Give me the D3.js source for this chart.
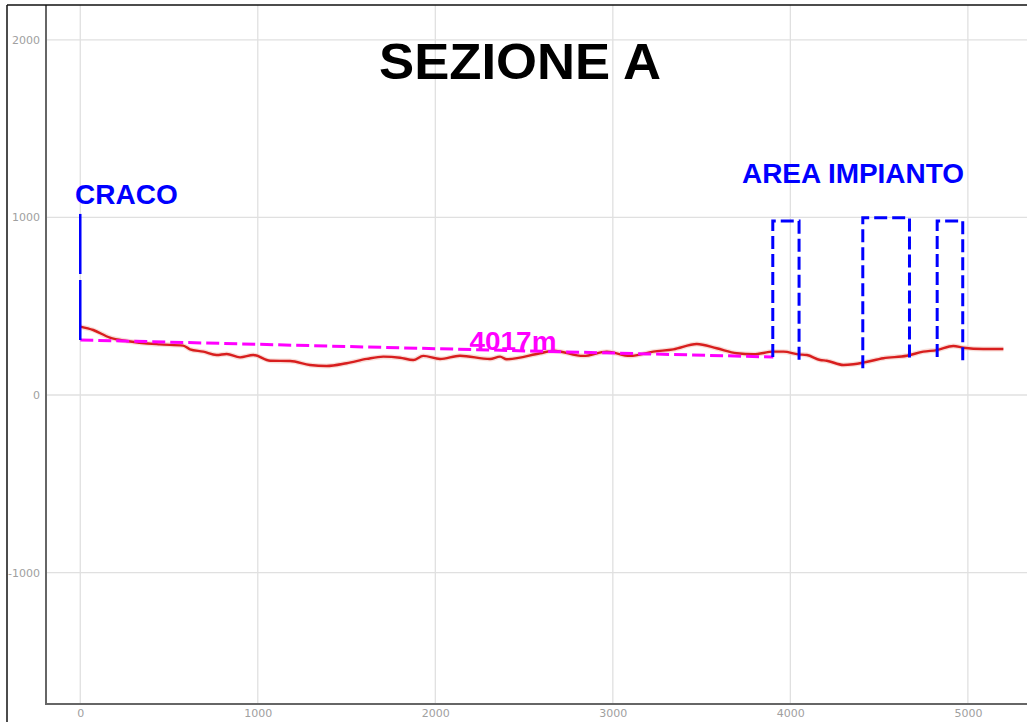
<!DOCTYPE html>
<html>
<head>
<meta charset="utf-8">
<script src="https://cdn.jsdelivr.net/npm/d3@7"></script>
<style>
  html, body { margin: 0; padding: 0; background: #fff; }
  svg { display: block; }
</style>
</head>
<body>
<svg id="chart" width="1027" height="722"></svg>
<script>
// ---- data ----
const xTicks = [0, 1000, 2000, 3000, 4000, 5000];
const yTicks = [-1000, 0, 1000, 2000];

const profileDist = [0, 73, 167, 261, 449, 580, 618, 693, 768, 825, 900, 975, 1070, 1182, 1294, 1388, 1501, 1614, 1707, 1801, 1876, 1932, 2027, 2139, 2308, 2365, 2402, 2590, 2665, 2834, 2966, 3097, 3228, 3341, 3473, 3585, 3698, 3792, 3904, 3961, 4045, 4093, 4168, 4205, 4299, 4355, 4411, 4524, 4656, 4749, 4825, 4918, 4975, 5087, 5200];
const profileElev = [385, 366, 323, 304, 285, 278, 257, 244, 225, 231, 212, 225, 193, 191, 169, 163, 179, 203, 216, 210, 197, 220, 203, 221, 203, 216, 201, 235, 249, 220, 244, 220, 244, 257, 287, 263, 235, 229, 244, 244, 229, 225, 197, 193, 169, 173, 182, 207, 221, 244, 253, 276, 266, 259, 259];

// sight line CRACO -> impianto
const sightDist = [0, 3904];
const sightElev = [310, 214];
const sightLabel = "4017m";

// CRACO marker
const cracoDist = 0;
const cracoElev = [310, 1030];
const cracoLabel = "CRACO";

// area impianto boxes
const boxLeft = [3901, 4408, 4827];
const boxRight = [4049, 4671, 4971];
const boxTop = [980, 998, 980];
const boxLeftBottom = [214, 150, 214];
const boxRightBottom = [175, 197, 175];
const areaLabel = "AREA IMPIANTO";

const title = "SEZIONE A";

// ---- drawing ----
(function () {
const svg = d3.select("#chart");
const W = 1027, H = 722;
const mLeft = 46, mRight = 1027, mTop = 5, mBottom = 704;

const x = d3.scaleLinear().domain([-193, 5333]).range([mLeft, mRight]);
const y = d3.scaleLinear().domain([-1740, 2196]).range([mBottom, mTop]);

// grid
const grid = svg.append("g");
grid.selectAll("line.vg").data(xTicks).enter().append("line")
  .attr("x1", d => x(d)).attr("x2", d => x(d))
  .attr("y1", mTop).attr("y2", mBottom)
  .attr("stroke", "#e0e0e0").attr("stroke-width", 1.3);
grid.selectAll("line.hg").data(yTicks).enter().append("line")
  .attr("x1", mLeft).attr("x2", mRight)
  .attr("y1", d => y(d)).attr("y2", d => y(d))
  .attr("stroke", "#e0e0e0").attr("stroke-width", 1.3);

// axes
const fmt = d => String(d);
const yAxis = d3.axisLeft(y).tickValues(yTicks).tickSize(0).tickPadding(6).tickFormat(fmt);
const gy = svg.append("g").attr("transform", `translate(${mLeft},0)`).call(yAxis);
gy.select(".domain").remove();
gy.selectAll("text").attr("fill", "#a0a0a0").attr("font-family", "DejaVu Sans, sans-serif").attr("font-size", 11);

const xAxis = d3.axisBottom(x).tickValues(xTicks).tickSize(0).tickPadding(5).tickFormat(fmt);
const gx = svg.append("g").attr("transform", `translate(0,${mBottom})`).call(xAxis);
gx.select(".domain").remove();
gx.selectAll("text").attr("fill", "#a0a0a0").attr("font-family", "DejaVu Sans, sans-serif").attr("font-size", 11);

// axis lines
svg.append("line").attr("x1", mLeft).attr("x2", mLeft).attr("y1", mTop).attr("y2", mBottom + 1)
  .attr("stroke", "#666").attr("stroke-width", 2);
svg.append("line").attr("x1", mLeft).attr("x2", mRight).attr("y1", mBottom).attr("y2", mBottom)
  .attr("stroke", "#666").attr("stroke-width", 2);

// outer frame
svg.append("line").attr("x1", 7).attr("x2", 7).attr("y1", 5).attr("y2", H)
  .attr("stroke", "#111").attr("stroke-width", 1.5);
svg.append("line").attr("x1", 7).attr("x2", W).attr("y1", 5).attr("y2", 5)
  .attr("stroke", "#111").attr("stroke-width", 1.5);

// profile
const profile = profileDist.map((d, i) => [d, profileElev[i]]);
const line = d3.line().x(d => x(d[0])).y(d => y(d[1])).curve(d3.curveMonotoneX);
svg.append("path").datum(profile).attr("d", line)
  .attr("fill", "none").attr("stroke", "#f4c8c0").attr("stroke-width", 5).attr("opacity", 0.6);
svg.append("path").datum(profile).attr("d", line)
  .attr("fill", "none").attr("stroke", "#d81e1e").attr("stroke-width", 2.4);

// sight line
const sight = sightDist.map((d, i) => [d, sightElev[i]]);
svg.append("path").datum(sight).attr("d", d3.line().x(d => x(d[0])).y(d => y(d[1])))
  .attr("fill", "none").attr("stroke", "#ff00ff").attr("stroke-width", 3)
  .attr("stroke-dasharray", "13,5");
svg.append("text").text(sightLabel)
  .attr("x", 513).attr("y", 349.5).attr("text-anchor", "middle")
  .attr("font-family", "Liberation Sans, Arial, sans-serif").attr("font-weight", "bold")
  .attr("font-size", 25).attr("fill", "#ff00ff")
  .attr("textLength", 87).attr("lengthAdjust", "spacingAndGlyphs");

// CRACO marker
svg.append("line")
  .attr("x1", x(cracoDist)).attr("x2", x(cracoDist))
  .attr("y1", y(cracoElev[0])).attr("y2", y(cracoElev[1]))
  .attr("stroke", "#0000ff").attr("stroke-width", 2.5).attr("stroke-dasharray", "60,6");
svg.append("text").text(cracoLabel)
  .attr("x", 75).attr("y", 204)
  .attr("font-family", "Liberation Sans, Arial, sans-serif").attr("font-weight", "bold")
  .attr("font-size", 28).attr("fill", "#0000ff");

// boxes
const boxes = boxLeft.map((l, i) => [[l, boxLeftBottom[i]], [l, boxTop[i]], [boxRight[i], boxTop[i]], [boxRight[i], boxRightBottom[i]]]);
svg.selectAll("path.box").data(boxes).enter().append("path")
  .attr("d", d3.line().x(d => x(d[0])).y(d => y(d[1])))
  .attr("fill", "none").attr("stroke", "#0000ff").attr("stroke-width", 3)
  .attr("stroke-dasharray", "13,5");
svg.append("text").text(areaLabel)
  .attr("x", 853).attr("y", 183).attr("text-anchor", "middle")
  .attr("font-family", "Liberation Sans, Arial, sans-serif").attr("font-weight", "bold")
  .attr("font-size", 27).attr("fill", "#0000ff")
  .attr("textLength", 222).attr("lengthAdjust", "spacingAndGlyphs");

// title
svg.append("text").text(title)
  .attr("x", 520).attr("y", 78.5).attr("text-anchor", "middle")
  .attr("font-family", "Liberation Sans, Arial, sans-serif").attr("font-weight", "bold")
  .attr("font-size", 50).attr("fill", "#000")
  .attr("textLength", 282).attr("lengthAdjust", "spacingAndGlyphs");
})();
</script>
</body>
</html>
